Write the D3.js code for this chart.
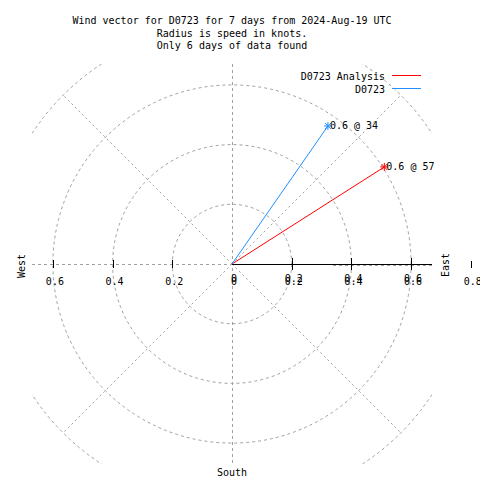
<!DOCTYPE html>
<html><head><meta charset="utf-8">
<script src="https://cdn.jsdelivr.net/npm/d3@7"></script>
<style>body{margin:0;background:#fff}svg{display:block}text{font-family:"DejaVu Sans Mono",monospace;font-size:10px;fill:#000}</style>
</head><body>
<script>
// ---- data ----
const titleLines = ["Wind vector for D0723 for 7 days from 2024-Aug-19 UTC", "Radius is speed in knots.", "Only 6 days of data found"];
const seriesNames = ["D0723 Analysis", "D0723"];
const speeds = [0.605, 0.563];
const directions = [57.5, 34.8];
const pointLabels = ["0.6 @ 57", "0.6 @ 34"];
const circleTicks = [0.2, 0.4, 0.6, 0.8];
const spokeAngles = [45, 135, 225, 315];
const leftTicks = [0.2, 0.4, 0.6];
const leftTickLabels = ["0.2", "0.4", "0.6"];
const rightTicks = [0, 0.2, 0.4, 0.6];
const rightTickLabels = ["0", "0.2", "0.4", "0.6"];
const outerTick = 0.8, outerTickLabel = "0.8";
const compassLabels = ["West", "East", "South"];
const seriesColors = ["#ff0000", "#1e90ff"];

const W = 480, H = 480;
const svg = d3.select("body").append("svg").attr("width", W).attr("height", H);
const x = d3.scaleLinear().domain([-0.67, 0.67]).range([32, 432]);
const y = d3.scaleLinear().domain([-0.67, 0.67]).range([464, 64]);
const r = d3.scaleLinear().domain([0, 0.67]).range([0, 200]);
const cx = x(0), cy = y(0);
const grid = "#a0a0a0";

svg.append("defs").append("clipPath").attr("id", "plot")
  .append("rect").attr("x", 32).attr("y", 64).attr("width", 400).attr("height", 400);

// title
svg.selectAll("text.title").data(titleLines).join("text").attr("class", "title")
  .attr("x", 232).attr("y", (d, i) => 24 + i * 12.5).attr("text-anchor", "middle").text(d => d);

const g = svg.append("g").attr("clip-path", "url(#plot)");
// circles
g.selectAll("circle.grid").data(circleTicks).join("circle")
  .attr("cx", cx).attr("cy", cy).attr("r", d => r(d))
  .attr("fill", "none").attr("stroke", grid).attr("stroke-dasharray", "3,3");
// spokes
g.selectAll("line.spoke").data(spokeAngles).join("line")
  .attr("x1", cx).attr("y1", cy)
  .attr("x2", d => cx + r(0.8) * Math.cos(d * Math.PI / 180))
  .attr("y2", d => cy - r(0.8) * Math.sin(d * Math.PI / 180))
  .attr("stroke", grid).attr("stroke-dasharray", "2,3");
// axes dashed
svg.append("line").attr("x1", 32).attr("x2", 432).attr("y1", cy + 0.5).attr("y2", cy + 0.5)
  .attr("stroke", grid).attr("stroke-dasharray", "3,3").attr("shape-rendering", "crispEdges");
svg.append("line").attr("x1", cx + 0.5).attr("x2", cx + 0.5).attr("y1", 64).attr("y2", 464)
  .attr("stroke", grid).attr("stroke-dasharray", "3,3").attr("shape-rendering", "crispEdges");
svg.append("line").attr("x1", x(0.34)).attr("x2", 432).attr("y1", cy + 1.5).attr("y2", cy + 1.5)
  .attr("stroke", grid).attr("stroke-dasharray", "3,3").attr("shape-rendering", "crispEdges");
// black radial axis
svg.append("line").attr("x1", cx).attr("x2", 432).attr("y1", cy + 0.5).attr("y2", cy + 0.5)
  .attr("stroke", "#000").attr("stroke-width", 1).attr("shape-rendering", "crispEdges");
svg.selectAll("line.rt").data(rightTicks.slice(1)).join("line")
  .attr("x1", d => Math.round(x(d)) + 0.5).attr("x2", d => Math.round(x(d)) + 0.5)
  .attr("y1", cy - 6).attr("y2", cy + 6).attr("stroke", "#000").attr("shape-rendering", "crispEdges");
svg.selectAll("line.lt").data(leftTicks).join("line")
  .attr("x1", d => Math.round(x(-d)) + 0.5).attr("x2", d => Math.round(x(-d)) + 0.5)
  .attr("y1", cy - 4).attr("y2", cy + 4).attr("stroke", "#000").attr("shape-rendering", "crispEdges");
svg.append("line").attr("x1", Math.round(x(outerTick)) + 0.5).attr("x2", Math.round(x(outerTick)) + 0.5)
  .attr("y1", cy - 3).attr("y2", cy + 4).attr("stroke", "#000").attr("shape-rendering", "crispEdges");

// tick labels
svg.selectAll("text.ll").data(leftTicks).join("text")
  .attr("x", d => x(-d) + 2).attr("y", 285).attr("text-anchor", "middle")
  .text((d, i) => leftTickLabels[i]);
[285, 282].forEach(by => {
  svg.append("g").selectAll("text").data(rightTicks).join("text")
    .attr("x", d => x(d) + 2).attr("y", by).attr("text-anchor", "middle")
    .text((d, i) => rightTickLabels[i]);
});
svg.append("text").attr("x", x(outerTick) + 2).attr("y", 285).attr("text-anchor", "middle").text(outerTickLabel);

// compass labels
svg.append("text").attr("transform", "translate(25,266) rotate(-90)").attr("text-anchor", "middle").text(compassLabels[0]);
svg.append("text").attr("transform", "translate(449,265) rotate(-90)").attr("text-anchor", "middle").text(compassLabels[1]);
svg.append("text").attr("x", 232).attr("y", 476).attr("text-anchor", "middle").text(compassLabels[2]);

// vectors
const pts = speeds.map((s, i) => {
  const a = directions[i] * Math.PI / 180;
  return { x: cx + r(s) * Math.sin(a), y: cy - r(s) * Math.cos(a), i };
});
svg.selectAll("line.vec").data(pts).join("line")
  .attr("x1", cx).attr("y1", cy).attr("x2", d => d.x).attr("y2", d => d.y)
  .attr("stroke", d => seriesColors[d.i]).attr("stroke-width", 1);
const star = svg.selectAll("g.star").data(pts).join("g")
  .attr("transform", d => `translate(${d.x},${d.y})`).attr("stroke", d => seriesColors[d.i]);
star.append("line").attr("x1", -4).attr("x2", 4).attr("y1", 0).attr("y2", 0);
star.append("line").attr("x1", 0).attr("x2", 0).attr("y1", -4).attr("y2", 4);
star.append("line").attr("x1", -3).attr("x2", 3).attr("y1", -3).attr("y2", 3);
star.append("line").attr("x1", -3).attr("x2", 3).attr("y1", 3).attr("y2", -3);
svg.selectAll("text.pl").data(pts).join("text")
  .attr("x", d => d.x + 2).attr("y", d => d.y + 3.5).text(d => pointLabels[d.i]);

// legend
seriesNames.forEach((name, i) => {
  svg.append("text").attr("x", 385).attr("y", 79.5 + i * 13).attr("text-anchor", "end").text(name);
  svg.append("line").attr("x1", 392).attr("x2", 421).attr("y1", 75.5 + i * 13).attr("y2", 75.5 + i * 13)
    .attr("stroke", seriesColors[i]).attr("stroke-width", 1.2).attr("shape-rendering", "crispEdges");
});
</script>
</body></html>
